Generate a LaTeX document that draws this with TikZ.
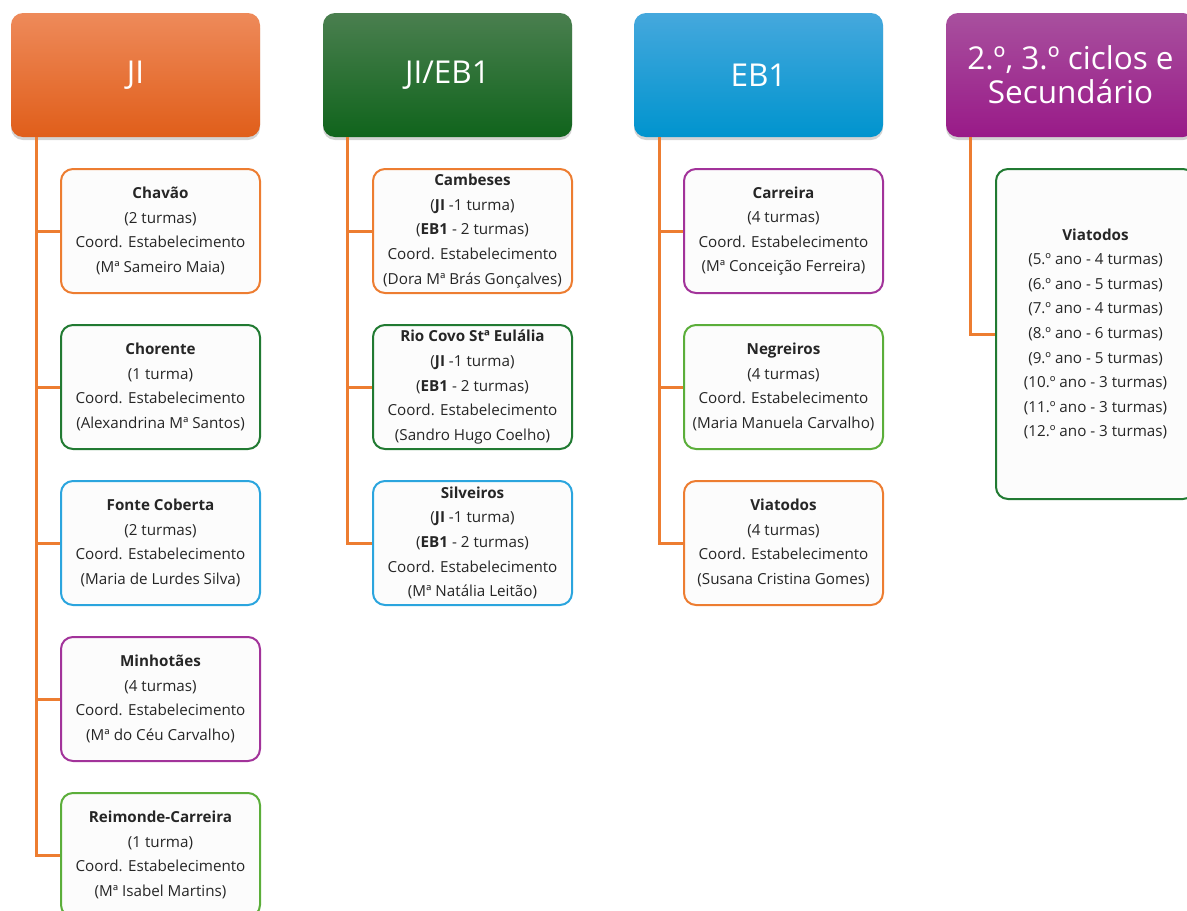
\documentclass[tikz,border=0pt]{standalone}
\usepackage{fontspec}
\setmainfont{Open Sans}
\usetikzlibrary{shadows}
\definecolor{corange}{HTML}{ED7D31}
\definecolor{cdgreen}{HTML}{217A32}
\definecolor{cblue}{HTML}{2BA5DE}
\definecolor{cpurple}{HTML}{A2339A}
\definecolor{clgreen}{HTML}{5BAE3A}
\definecolor{boxfill}{HTML}{FCFCFC}
\definecolor{txt}{HTML}{262626}
\tikzset{
  header/.style={minimum width=249pt, minimum height=124pt, rounded corners=12pt,
    text=white, align=center, font={\fontsize{31.5}{34}\selectfont}, inner sep=0pt,
    drop shadow={opacity=0.35, shadow xshift=0pt, shadow yshift=-3pt}},
  hji/.style={header, top color={rgb,255:red,238;green,138;blue,90}, middle color={rgb,255:red,240;green,112;blue,40}, bottom color={rgb,255:red,224;green,94;blue,26}},
  hjieb/.style={header, top color={rgb,255:red,74;green,127;blue,79}, middle color={rgb,255:red,21;green,112;blue,32}, bottom color={rgb,255:red,16;green,100;blue,28}},
  heb/.style={header, top color={rgb,255:red,69;green,168;blue,221}, middle color={rgb,255:red,0;green,160;blue,223}, bottom color={rgb,255:red,0;green,148;blue,206}},
  hsec/.style={header, top color={rgb,255:red,168;green,80;blue,158}, middle color={rgb,255:red,164;green,30;blue,150}, bottom color={rgb,255:red,153;green,26;blue,136}},
  school/.style={draw=#1, line width=2pt, fill=boxfill, rounded corners=12pt,
    minimum width=199pt, minimum height=124pt, align=center, inner sep=0pt,
    text=txt, font={\fontsize{15.2}{24.6}\selectfont}},
  conn/.style={draw=corange, line width=3pt}
}
\begin{document}
\begin{tikzpicture}[x=1pt,y=-1pt]
\useasboundingbox (0,0) rectangle (1187,911);
\clip (0,0) rectangle (1187,911);
% headers
\node[hji]   (ji)   at (135.5,75) {JI};
\node[hjieb] (jieb) at (447.5,75) {JI/EB1};
\node[heb]   (eb)   at (758.5,75) {EB1};
\node[hsec]  (sec)  at (1070.5,75) {2.º, 3.º ciclos e\\Secundário};
% column 1
\node[school=corange] (chavao) at (160.5,231) {\textbf{Chavão}\\(2 turmas)\\Coord. Estabelecimento\\(Mª Sameiro Maia)};
\node[school=cdgreen] (chorente) at (160.5,387) {\textbf{Chorente}\\(1 turma)\\Coord. Estabelecimento\\(Alexandrina Mª Santos)};
\node[school=cblue] (fonte) at (160.5,543) {\textbf{Fonte Coberta}\\(2 turmas)\\Coord. Estabelecimento\\(Maria de Lurdes Silva)};
\node[school=cpurple] (minho) at (160.5,699) {\textbf{Minhotães}\\(4 turmas)\\Coord. Estabelecimento\\(Mª do Céu Carvalho)};
\node[school=clgreen] (reim) at (160.5,855) {\textbf{Reimonde-Carreira}\\(1 turma)\\Coord. Estabelecimento\\(Mª Isabel Martins)};
% column 2
\node[school=corange] (camb) at (472.5,231) {\textbf{Cambeses}\\(\textbf{JI} -1 turma)\\(\textbf{EB1} - 2 turmas)\\Coord. Estabelecimento\\(Dora Mª Brás Gonçalves)};
\node[school=cdgreen] (rio) at (472.5,387) {\textbf{Rio Covo Stª Eulália}\\(\textbf{JI} -1 turma)\\(\textbf{EB1} - 2 turmas)\\Coord. Estabelecimento\\(Sandro Hugo Coelho)};
\node[school=cblue] (silv) at (472.5,543) {\textbf{Silveiros}\\(\textbf{JI} -1 turma)\\(\textbf{EB1} - 2 turmas)\\Coord. Estabelecimento\\(Mª Natália Leitão)};
% column 3
\node[school=cpurple] (carr) at (783.5,231) {\textbf{Carreira}\\(4 turmas)\\Coord. Estabelecimento\\(Mª Conceição Ferreira)};
\node[school=clgreen] (negr) at (783.5,387) {\textbf{Negreiros}\\(4 turmas)\\Coord. Estabelecimento\\(Maria Manuela Carvalho)};
\node[school=corange] (viat) at (783.5,543) {\textbf{Viatodos}\\(4 turmas)\\Coord. Estabelecimento\\(Susana Cristina Gomes)};
% column 4
\node[school=cdgreen, minimum height=330pt] (viat2) at (1095.5,334) {\textbf{Viatodos}\\(5.º ano - 4 turmas)\\(6.º ano - 5 turmas)\\(7.º ano - 4 turmas)\\(8.º ano - 6 turmas)\\(9.º ano - 5 turmas)\\(10.º ano - 3 turmas)\\(11.º ano - 3 turmas)\\(12.º ano - 3 turmas)};
% connectors
\foreach \b in {chavao,chorente,fonte,minho,reim}
  \draw[conn] ([xshift=26pt]ji.south west) |- (\b.west);
\foreach \b in {camb,rio,silv}
  \draw[conn] ([xshift=25pt]jieb.south west) |- (\b.west);
\foreach \b in {carr,negr,viat}
  \draw[conn] ([xshift=26pt]eb.south west) |- (\b.west);
\draw[conn] ([xshift=25pt]sec.south west) |- (viat2.west);
\end{tikzpicture}
\end{document}
